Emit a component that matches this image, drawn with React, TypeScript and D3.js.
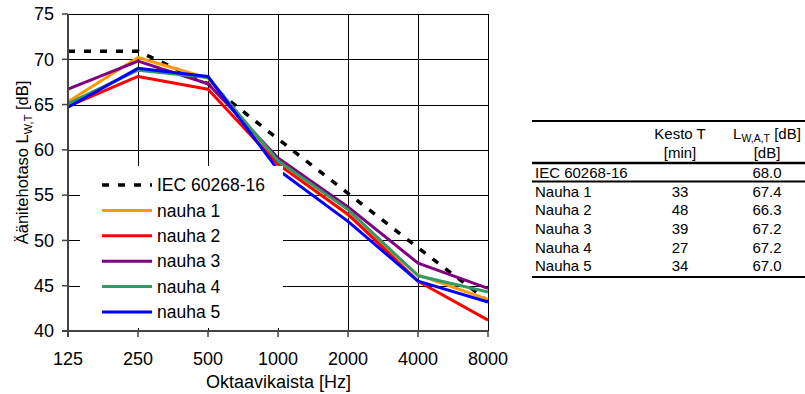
import * as d3 from 'd3';

const FONT = '"Liberation Sans", Arial, sans-serif';

// octave bands (Hz)
const bands = ['125', '250', '500', '1000', '2000', '4000', '8000'];
const yTicks = [40, 45, 50, 55, 60, 65, 70, 75];

// sound power level per band (dB)
const iecValues = [70.9, 70.9, 67.3, 61.2, 55.2, 49.2, 43.3];
const nauha1 = [65.3, 70.2, 67.9, 58.6, 52.8, 46.2, 43.5];
const nauha2 = [64.8, 68.1, 66.7, 58.4, 52.9, 45.5, 41.2];
const nauha3 = [66.7, 69.8, 67.3, 59.1, 53.7, 47.5, 44.7];
const nauha4 = [65.1, 68.8, 68.0, 58.8, 53.4, 46.1, 44.3];
const nauha5 = [64.7, 69.0, 68.1, 57.8, 52.1, 45.5, 43.2];

const seriesNames = ['nauha 1', 'nauha 2', 'nauha 3', 'nauha 4', 'nauha 5'];
const seriesColors = ['#ff9900', '#ff0000', '#800080', '#339966', '#0000ff'];

// table on the right
const tableRows = ['Nauha 1', 'Nauha 2', 'Nauha 3', 'Nauha 4', 'Nauha 5'];
const durations = [33, 48, 39, 27, 34];
const levels = [67.4, 66.3, 67.2, 67.2, 67.0];
const iecLevel = 68.0;

export default function App() {
  const allSeries = [nauha1, nauha2, nauha3, nauha4, nauha5];

  const x = d3.scalePoint<string>().domain(bands).range([68, 488]);
  const y = d3.scaleLinear().domain([40, 75]).range([331, 14]);

  const line = d3
    .line<number>()
    .x((_, i) => x(bands[i]) as number)
    .y((d) => y(d));

  const [left, right] = x.range();
  const top = y(75);
  const bottom = y(40);

  // legend
  const legendItems = [
    { label: 'IEC 60268-16', color: '#000', dashed: true },
    ...seriesNames.map((n, i) => ({ label: n, color: seriesColors[i], dashed: false })),
  ];
  const legendY = d3.scaleLinear().domain([0, 5]).range([185, 312]);

  // table rows
  const rowY = d3.scaleLinear().domain([0, 4]).range([191.5, 266]);
  const col1 = 535;
  const col2 = 680;
  const col3 = 767;

  return (
    <svg
      width={805}
      height={394}
      style={{ position: 'absolute', left: 0, top: 0, background: '#fff' }}
      fontFamily={FONT}
    >
      <rect x={0} y={0} width={805} height={394} fill="#fff" />

      {/* grid */}
      {yTicks.map((t) => (
        <line key={'h' + t} x1={left} x2={right} y1={Math.round(y(t)) + 0.5} y2={Math.round(y(t)) + 0.5} stroke="#000" strokeWidth={1} />
      ))}
      {bands.map((b) => (
        <line key={'v' + b} x1={Math.round(x(b) as number) + 0.5} x2={Math.round(x(b) as number) + 0.5} y1={top} y2={bottom} stroke="#000" strokeWidth={1} />
      ))}

      {/* data lines */}
      <path d={line(iecValues) || ''} fill="none" stroke="#000" strokeWidth={3.5} strokeDasharray="7,9" />
      {allSeries.map((s, i) => (
        <path key={i} d={line(s) || ''} fill="none" stroke={seriesColors[i]} strokeWidth={3} strokeLinejoin="round" />
      ))}

      {/* legend */}
      <rect x={80} y={166} width={203} height={162} fill="#fff" />
      {legendItems.map((it, i) => (
        <g key={it.label}>
          <line
            x1={102}
            x2={152}
            y1={legendY(i)}
            y2={legendY(i)}
            stroke={it.color}
            strokeWidth={it.dashed ? 3.5 : 3}
            strokeDasharray={it.dashed ? '7,9' : undefined}
          />
          <text x={157} y={legendY(i)} dy="0.35em" fontSize={17.5} fill="#000">
            {it.label}
          </text>
        </g>
      ))}

      {/* axes */}
      <line x1={68} x2={68} y1={top} y2={bottom + 6} stroke="#444" strokeWidth={2} />
      <line x1={left - 6} x2={right} y1={bottom} y2={bottom} stroke="#444" strokeWidth={2} />
      {yTicks.map((t) => (
        <g key={'yt' + t}>
          <line x1={62} x2={68} y1={y(t)} y2={y(t)} stroke="#444" strokeWidth={1.5} />
          <text x={54} y={y(t)} dy="0.35em" textAnchor="end" fontSize={18}>
            {t}
          </text>
        </g>
      ))}
      {bands.map((b) => (
        <g key={'xt' + b}>
          <line x1={x(b)} x2={x(b)} y1={bottom} y2={bottom + 6} stroke="#444" strokeWidth={1.5} />
          <text x={x(b)} y={364.5} textAnchor="middle" fontSize={18}>
            {b}
          </text>
        </g>
      ))}

      {/* axis titles */}
      <text x={278.5} y={388} textAnchor="middle" fontSize={18}>
        Oktaavikaista [Hz]
      </text>
      <text transform="translate(28,162.5) rotate(-90)" textAnchor="middle" fontSize={16.5}>
        Äänitehotaso L
        <tspan fontSize={11} dy={4}>W,T</tspan>
        <tspan dy={-4}> [dB]</tspan>
      </text>

      {/* table */}
      <g fontSize={15}>
        <line x1={532} x2={805} y1={121} y2={121} stroke="#000" strokeWidth={2} />
        <text x={col2} y={138.5} textAnchor="middle">Kesto T</text>
        <text x={col2} y={158} textAnchor="middle">[min]</text>
        <text x={col3} y={138.5} textAnchor="middle">
          L<tspan fontSize={10.5} dy={3}>W,A,T</tspan>
          <tspan dy={-3}> [dB]</tspan>
        </text>
        <text x={col3} y={158} textAnchor="middle">[dB]</text>
        <line x1={532} x2={805} y1={163} y2={163} stroke="#000" strokeWidth={2.5} />
        <text x={col1} y={178}>IEC 60268-16</text>
        <text x={col3} y={178} textAnchor="middle">{iecLevel.toFixed(1)}</text>
        <line x1={532} x2={805} y1={181.5} y2={181.5} stroke="#000" strokeWidth={2} />
        {tableRows.map((r, i) => (
          <g key={r}>
            <text x={col1} y={rowY(i) + 5.3}>{r}</text>
            <text x={col2} y={rowY(i) + 5.3} textAnchor="middle">{durations[i]}</text>
            <text x={col3} y={rowY(i) + 5.3} textAnchor="middle">{levels[i].toFixed(1)}</text>
          </g>
        ))}
        <line x1={532} x2={805} y1={277} y2={277} stroke="#000" strokeWidth={2} />
      </g>
    </svg>
  );
}
